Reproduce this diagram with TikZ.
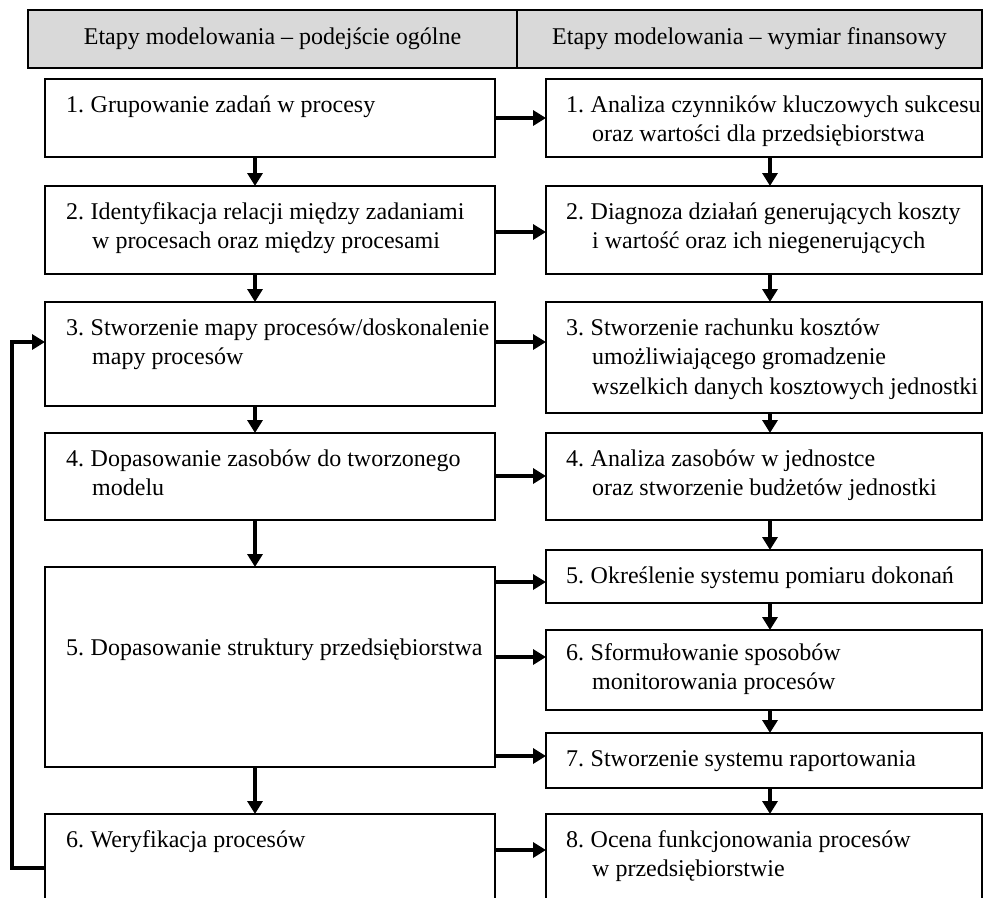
\documentclass[tikz,border=0pt]{standalone}
\usepackage{fontspec}
\setmainfont{Liberation Serif}
\usetikzlibrary{arrows.meta}
\definecolor{hdr}{HTML}{D9D9D9}
\newcommand{\stepno}[1]{\makebox[24.5pt][l]{#1}}
\newcommand{\hind}{\hspace*{26pt}}
\newcommand{\boxlines}[1]{\begin{tabular}[t]{@{}l@{}}#1\end{tabular}}
\begin{document}
\begin{tikzpicture}[x=1pt,y=-1pt,
  box/.style={draw, line width=2pt, anchor=north west, inner sep=0pt, outer sep=0pt},
  lbox/.style={box, minimum width=450pt},
  rbox/.style={box, minimum width=436pt},
  hbox/.style={box, fill=hdr, minimum height=58pt, font=\fontsize{24}{29.5}\selectfont},
  txt/.style={anchor=base west, inner sep=0pt, font=\fontsize{24}{29.5}\selectfont},
  arr/.style={line width=4pt, -{Triangle[width=15pt,length=13pt]}},
]
\useasboundingbox (0,0) rectangle (984,897);
\clip (0,0) rectangle (984,897);

% header
\node[hbox, minimum width=489pt] (H1) at (28,10) {Etapy modelowania – podejście ogólne};
\node[hbox, minimum width=465pt] (H2) at (517,10) {Etapy modelowania – wymiar finansowy};

% left column boxes
\node[lbox, minimum height=78pt]  (L1) at (45,79)  {};
\node[lbox, minimum height=88pt]  (L2) at (45,186) {};
\node[lbox, minimum height=104pt] (L3) at (45,302) {};
\node[lbox, minimum height=87pt]  (L4) at (45,433) {};
\node[lbox, minimum height=200pt] (L5) at (45,567) {};
\node[lbox, minimum height=120pt] (L6) at (45,814) {};

% right column boxes
\node[rbox, minimum height=78pt]  (R1) at (546,79)  {};
\node[rbox, minimum height=88pt]  (R2) at (546,186) {};
\node[rbox, minimum height=111pt] (R3) at (546,302) {};
\node[rbox, minimum height=87pt]  (R4) at (546,433) {};
\node[rbox, minimum height=53pt]  (R5) at (546,550) {};
\node[rbox, minimum height=80pt]  (R6) at (546,630) {};
\node[rbox, minimum height=55pt]  (R7) at (546,733) {};
\node[rbox, minimum height=120pt] (R8) at (546,814) {};

% texts left
\node[txt] (L1t) at (66,112) {\boxlines{\stepno{1.}Grupowanie zadań w procesy}};
\node[txt] (L2t) at (66,219) {\boxlines{\stepno{2.}Identyfikacja relacji między zadaniami\\\hind w procesach oraz między procesami}};
\node[txt] (L3t) at (66,335) {\boxlines{\stepno{3.}Stworzenie mapy procesów/doskonalenie\\\hind mapy procesów}};
\node[txt] (L4t) at (66,466) {\boxlines{\stepno{4.}Dopasowanie zasobów do tworzonego\\\hind modelu}};
\node[txt] (L5t) at (66,655) {\boxlines{\stepno{5.}Dopasowanie struktury przedsiębiorstwa}};
\node[txt] (L6t) at (66,847) {\boxlines{\stepno{6.}Weryfikacja procesów}};

% texts right
\node[txt] (R1t) at (566,112) {\boxlines{\stepno{1.}Analiza czynników kluczowych sukcesu\\\hind oraz wartości dla przedsiębiorstwa}};
\node[txt] (R2t) at (566,219) {\boxlines{\stepno{2.}Diagnoza działań generujących koszty\\\hind i wartość oraz ich niegenerujących}};
\node[txt] (R3t) at (566,335) {\boxlines{\stepno{3.}Stworzenie rachunku kosztów\\\hind umożliwiającego gromadzenie\\\hind wszelkich danych kosztowych jednostki}};
\node[txt] (R4t) at (566,466) {\boxlines{\stepno{4.}Analiza zasobów w jednostce\\\hind oraz stworzenie budżetów jednostki}};
\node[txt] (R5t) at (566,583) {\boxlines{\stepno{5.}Określenie systemu pomiaru dokonań}};
\node[txt] (R6t) at (566,660) {\boxlines{\stepno{6.}Sformułowanie sposobów\\\hind monitorowania procesów}};
\node[txt] (R7t) at (566,766) {\boxlines{\stepno{7.}Stworzenie systemu raportowania}};
\node[txt] (R8t) at (566,847) {\boxlines{\stepno{8.}Ocena funkcjonowania procesów\\\hind w przedsiębiorstwie}};

% helper coordinates
\coordinate (xl) at (255,0);
\coordinate (xr) at (770,0);
\coordinate (fbx) at (12,0);
\coordinate (y1) at (0,118);
\coordinate (y2) at (0,232);
\coordinate (y3) at (0,342);
\coordinate (y4) at (0,476);
\coordinate (y5a) at (0,582);
\coordinate (y5b) at (0,657);
\coordinate (y5c) at (0,756);
\coordinate (y6) at (0,850);
\coordinate (yfb) at (0,868);

% horizontal arrows
\draw[arr] (L1.east |- y1) -- (R1.west |- y1);
\draw[arr] (L2.east |- y2) -- (R2.west |- y2);
\draw[arr] (L3.east |- y3) -- (R3.west |- y3);
\draw[arr] (L4.east |- y4) -- (R4.west |- y4);
\draw[arr] (L5.east |- y5a) -- (R5.west |- y5a);
\draw[arr] (L5.east |- y5b) -- (R6.west |- y5b);
\draw[arr] (L5.east |- y5c) -- (R7.west |- y5c);
\draw[arr] (L6.east |- y6) -- (R8.west |- y6);

% vertical arrows left
\draw[arr] (L1.south -| xl) -- (L2.north -| xl);
\draw[arr] (L2.south -| xl) -- (L3.north -| xl);
\draw[arr] (L3.south -| xl) -- (L4.north -| xl);
\draw[arr] (L4.south -| xl) -- (L5.north -| xl);
\draw[arr] (L5.south -| xl) -- (L6.north -| xl);

% vertical arrows right
\draw[arr] (R1.south -| xr) -- (R2.north -| xr);
\draw[arr] (R2.south -| xr) -- (R3.north -| xr);
\draw[arr] (R3.south -| xr) -- (R4.north -| xr);
\draw[arr] (R4.south -| xr) -- (R5.north -| xr);
\draw[arr] (R5.south -| xr) -- (R6.north -| xr);
\draw[arr] (R6.south -| xr) -- (R7.north -| xr);
\draw[arr] (R7.south -| xr) -- (R8.north -| xr);

% feedback loop
\draw[arr] (L6.west |- yfb) -| (fbx |- y3) -- (L3.west |- y3);
\end{tikzpicture}
\end{document}
